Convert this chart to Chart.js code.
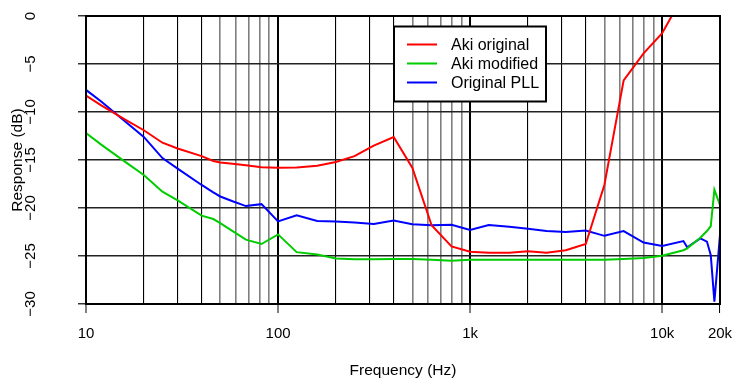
<!DOCTYPE html>
<html>
<head>
<meta charset="utf-8">
<script src="https://cdn.jsdelivr.net/npm/chart.js@4.4.1/dist/chart.umd.min.js"></script>
<style>
  html, body { margin: 0; padding: 0; background: #fff; }
</style>
</head>
<body>
<canvas id="grafica" width="734" height="381"></canvas>
<script>
// frecuencias medidas (Hz)
const frecuencias = [10, 12, 16, 20, 25, 30, 40, 46, 50, 58, 68, 82, 100, 125, 160, 200, 250, 315, 400, 500,
    630, 800, 1000, 1250, 1600, 2000, 2500, 3150, 4000, 5000, 6300, 8000, 10000, 12900, 13500, 15800,
    17100, 17900, 18700, 20000];

const akiOriginal = [-8.3, -9.3, -10.8, -11.9, -13.2, -13.8, -14.6, -15.1, -15.25, -15.4, -15.55, -15.75, -15.8,
    -15.78, -15.6, -15.2, -14.6, -13.5, -12.6, -15.8, -21.8, -24.0, -24.55, -24.65, -24.65, -24.5, -24.65,
    -24.4, -23.75, -17.6, -6.7, -3.9, -1.8, 2.2, null, null, null, null, null, null];

const akiModificado = [-12.2, -13.4, -15.2, -16.56, -18.3, -19.2, -20.8, -21.15, -21.57, -22.4, -23.3, -23.75,
    -22.75, -24.6, -24.85, -25.25, -25.35, -25.35, -25.3, -25.3, -25.4, -25.5, -25.4, -25.4, -25.4, -25.4,
    -25.4, -25.4, -25.4, -25.4, -25.3, -25.2, -24.97, -24.4, -24.2, -23.1, -22.4, -21.9, -18.1, -19.7];

const pllOriginal = [-7.7, -8.9, -11.0, -12.6, -14.8, -15.9, -17.6, -18.37, -18.8, -19.3, -19.8, -19.6, -21.4,
    -20.75, -21.35, -21.4, -21.5, -21.67, -21.3, -21.7, -21.8, -21.75, -22.3, -21.77, -21.95, -22.15, -22.4,
    -22.5, -22.35, -22.9, -22.4, -23.6, -23.96, -23.44, -24.1, -23.16, -23.5, -24.9, -29.76, -22.8];

const series = ["Aki original", "Aki modified", "Original PLL"];
const colores = ["#ff0000", "#00cd00", "#0000ff"];

// marcas del eje x y sus etiquetas
const marcasX = [10, 20, 30, 40, 50, 60, 70, 80, 90, 100, 200, 300, 400, 500, 600, 700, 800, 900,
    1000, 2000, 3000, 4000, 5000, 6000, 7000, 8000, 9000, 10000, 20000];
const valoresEtiquetaX = [10, 100, 1000, 10000, 20000];
const textosEtiquetaX = ["10", "100", "1k", "10k", "20k"];
const marcasY = [0, -5, -10, -15, -20, -25, -30];

const fuente = "'Liberation Sans', Arial, sans-serif";

const puntos = (valores) => frecuencias.map((f, i) => ({x: f, y: valores[i]}));

const primerDigito = (v) => Math.round(v / Math.pow(10, Math.floor(Math.log10(v) + 1e-9)));

// caja, etiquetas del eje y y leyenda
const extras = {
    id: "extras",
    afterDraw(chart) {
        const ctx = chart.ctx;
        const area = chart.chartArea;
        const ejeY = chart.scales.y;
        ctx.save();
        ctx.strokeStyle = "#000";
        ctx.lineWidth = 2;
        ctx.strokeRect(area.left, area.top, area.right - area.left, area.bottom - area.top);

        ctx.fillStyle = "#000";
        ctx.font = "15px " + fuente;
        ctx.textAlign = "center";
        ctx.textBaseline = "alphabetic";
        marcasY.forEach(v => {
            let py = ejeY.getPixelForValue(v);
            ctx.save();
            ctx.translate(35, py);
            ctx.rotate(-Math.PI / 2);
            ctx.fillText(v < 0 ? "\u2212" + Math.abs(v) : String(v), 0, 0);
            ctx.restore();
        });

        // leyenda
        ctx.fillStyle = "#fff";
        ctx.fillRect(394, 26.5, 152, 75);
        ctx.strokeStyle = "#000";
        ctx.lineWidth = 2;
        ctx.strokeRect(394, 26.5, 152, 75);
        ctx.font = "16px " + fuente;
        ctx.textAlign = "left";
        ctx.textBaseline = "middle";
        chart.data.datasets.forEach((ds, i) => {
            let y = 44.5 + i * 19;
            ctx.strokeStyle = ds.borderColor;
            ctx.lineWidth = 2;
            ctx.beginPath();
            ctx.moveTo(407, y);
            ctx.lineTo(437, y);
            ctx.stroke();
            ctx.fillStyle = "#000";
            ctx.fillText(ds.label, 451, y + 1);
        });
        ctx.restore();
    }
};

Chart.defaults.font.family = fuente;
Chart.defaults.color = "#000";

new Chart(document.getElementById("grafica"), {
    type: "line",
    data: {
        datasets: [
            {label: series[0], data: puntos(akiOriginal), borderColor: colores[0]},
            {label: series[1], data: puntos(akiModificado), borderColor: colores[1]},
            {label: series[2], data: puntos(pllOriginal), borderColor: colores[2]}
        ]
    },
    options: {
        responsive: false,
        animation: false,
        events: [],
        layout: {padding: {top: 16, right: 14, left: 0, bottom: 0}},
        elements: {
            line: {borderWidth: 2, tension: 0, fill: false},
            point: {radius: 0}
        },
        plugins: {legend: {display: false}, tooltip: {enabled: false}},
        scales: {
            x: {
                type: "logarithmic",
                min: 10,
                max: 20000,
                afterBuildTicks: (eje) => { eje.ticks = marcasX.map(v => ({value: v})); },
                afterFit: (eje) => {
                    eje.height = 77;
                    eje.paddingLeft = 0;
                    eje.paddingRight = 0;
                },
                border: {display: false},
                grid: {
                    drawTicks: true,
                    tickLength: 9,
                    tickWidth: 1,
                    tickColor: (c) => valoresEtiquetaX.includes(c.tick.value) ? "#000" : "rgba(0,0,0,0)",
                    color: (c) => primerDigito(c.tick.value) >= 5 && primerDigito(c.tick.value) < 10 ? "#7f7f7f" : "#000",
                    lineWidth: (c) => {
                        let d = primerDigito(c.tick.value);
                        if (d === 1) return 2;
                        return d >= 5 ? 1.6 : 1.1;
                    }
                },
                ticks: {
                    autoSkip: false,
                    maxRotation: 0,
                    minRotation: 0,
                    padding: 12,
                    font: {size: 15},
                    callback: (v) => {
                        let i = valoresEtiquetaX.indexOf(v);
                        return i >= 0 ? textosEtiquetaX[i] : "";
                    }
                },
                title: {display: true, text: "Frequency (Hz)", font: {size: 15.5}, padding: {top: 0, bottom: 1}}
            },
            y: {
                min: -30,
                max: 0,
                afterBuildTicks: (eje) => { eje.ticks = marcasY.map(v => ({value: v})); },
                afterFit: (eje) => { eje.width = 86; },
                border: {display: false},
                grid: {color: "#222", lineWidth: 1.6, drawTicks: true, tickLength: 8, tickWidth: 1.2, tickColor: "#000"},
                ticks: {display: false},
                title: {display: true, text: "Response (dB)", font: {size: 15.5}, padding: {top: 8, bottom: 0}}
            }
        }
    },
    plugins: [extras]
});
</script>
</body>
</html>
